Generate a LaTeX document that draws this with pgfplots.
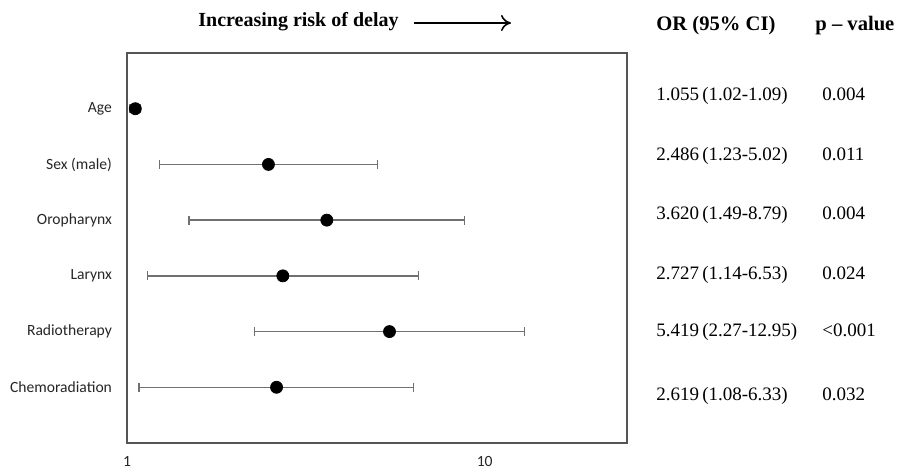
\documentclass[border=0pt]{standalone}
\usepackage{fontspec}
\setmainfont{Liberation Serif}
\newfontfamily\calibri{Carlito}
\usepackage{pgfplots}
\pgfplotsset{compat=1.18}
\usetikzlibrary{arrows.meta}
\definecolor{axisgray}{HTML}{555555}
\definecolor{cigray}{HTML}{707070}

\begin{document}
\begin{tikzpicture}
\begin{axis}[
    scale only axis,
    width=250pt, height=195pt,
    xmode=log,
    xmin=1, xmax=25,
    ymin=0, ymax=7,
    xtick={1,10}, xticklabels={1,10},
    ytick={1,2,3,4,5,6},
    yticklabels={Chemoradiation,Radiotherapy,Larynx,Oropharynx,Sex (male),Age},
    major tick length=0pt, minor tick length=0pt,
    axis line style={draw=axisgray, line width=0.75pt},
    tick label style={font=\calibri\fontsize{7.8}{9.5}\selectfont, text=black!85},
    yticklabel style={xshift=-4pt},
    xticklabel style={yshift=-3pt},
    clip=false,
]

% 95% CI segments
\addplot[cigray, line width=0.65pt, mark=|, mark size=2.2pt] coordinates {(1.02,6) (1.09,6)};
\addplot[cigray, line width=0.65pt, mark=|, mark size=2.2pt] coordinates {(1.23,5) (5.02,5)};
\addplot[cigray, line width=0.65pt, mark=|, mark size=2.2pt] coordinates {(1.49,4) (8.79,4)};
\addplot[cigray, line width=0.65pt, mark=|, mark size=2.2pt] coordinates {(1.14,3) (6.53,3)};
\addplot[cigray, line width=0.65pt, mark=|, mark size=2.2pt] coordinates {(2.27,2) (12.95,2)};
\addplot[cigray, line width=0.65pt, mark=|, mark size=2.2pt] coordinates {(1.08,1) (6.33,1)};

% odds ratios
\addplot[only marks, mark=*, mark size=3pt, black] coordinates {
    (1.055,6) (2.486,5) (3.620,4) (2.727,3) (5.419,2) (2.619,1)
};

% title and arrow
\node[anchor=west, font=\bfseries\fontsize{10}{12}\selectfont, inner sep=0pt]
    at (rel axis cs:0.142,1.0795) {Increasing risk of delay};
\draw[line width=0.8pt, -{To[length=5pt,width=8pt]}] (rel axis cs:0.574,1.077) -- (rel axis cs:0.768,1.077);

% table headers
\node[anchor=west, font=\bfseries\fontsize{10.3}{12}\selectfont, inner sep=0pt]
    at (rel axis cs:1.058,1.07) {OR (95\% CI)};
\node[anchor=west, font=\bfseries\fontsize{10.3}{12}\selectfont, inner sep=0pt]
    at (rel axis cs:1.376,1.07) {p -- value};

% table rows
\begin{scope}[every node/.style={anchor=west, font=\fontsize{9.5}{11}\selectfont, inner sep=0pt, text height=7pt, text depth=2pt}]
\node at (rel axis cs:1.058,0.892) {1.055\,(1.02-1.09)};
\node at (rel axis cs:1.058,0.738) {2.486\,(1.23-5.02)};
\node at (rel axis cs:1.058,0.585) {3.620\,(1.49-8.79)};
\node at (rel axis cs:1.058,0.431) {2.727\,(1.14-6.53)};
\node at (rel axis cs:1.058,0.285) {5.419\,(2.27-12.95)};
\node at (rel axis cs:1.058,0.123) {2.619\,(1.08-6.33)};
\node at (rel axis cs:1.39,0.892) {0.004};
\node at (rel axis cs:1.39,0.738) {0.011};
\node at (rel axis cs:1.39,0.585) {0.004};
\node at (rel axis cs:1.39,0.431) {0.024};
\node at (rel axis cs:1.39,0.285) {<0.001};
\node at (rel axis cs:1.39,0.123) {0.032};
\end{scope}

\coordinate (bbA) at (rel axis cs:-0.254,-0.0641);
\coordinate (bbB) at (rel axis cs:1.568,1.1359);
\end{axis}
\pgfresetboundingbox
\path[use as bounding box] (bbA) rectangle (bbB);
\end{tikzpicture}
\end{document}
